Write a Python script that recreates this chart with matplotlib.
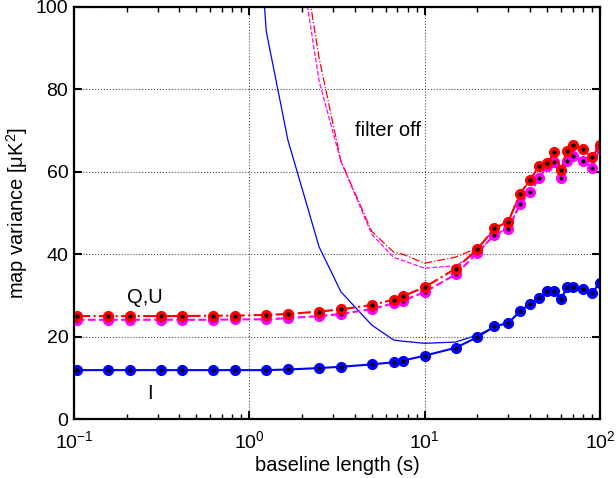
import numpy as np
import matplotlib
matplotlib.use('Agg')
import matplotlib.pyplot as plt
from matplotlib.ticker import LogLocator, NullFormatter

plt.rcParams['font.family'] = ['Liberation Sans', 'DejaVu Sans']
plt.rcParams['mathtext.default'] = 'regular'

# baseline lengths (s)
baseline = [0.104, 0.156, 0.208, 0.312, 0.416, 0.624, 0.832, 1.25, 1.66, 2.5,
            3.33, 5.0, 6.66, 7.5, 10, 15, 20, 25, 30, 35,
            40, 45, 50, 55, 60, 65, 70, 80, 90, 100]

# map variance, filter on
var_I = [11.9, 11.9, 11.9, 11.9, 11.9, 11.9, 11.9, 11.9, 12.05, 12.4,
         12.7, 13.3, 13.8, 14.2, 15.4, 17.3, 19.9, 22.5, 23.3, 26.2,
         28.0, 29.5, 31.0, 31.1, 29.2, 32.0, 32.0, 31.5, 30.7, 33.0]
var_Q = [25.0, 25.0, 25.0, 25.0, 25.0, 25.1, 25.1, 25.3, 25.5, 26.1,
         26.6, 27.7, 29.0, 29.8, 32.0, 36.5, 41.2, 46.3, 47.9, 54.7,
         58.0, 61.5, 62.0, 64.7, 60.4, 65.1, 66.4, 65.4, 63.5, 66.4]
var_U = [24.1, 24.1, 24.1, 24.1, 24.1, 24.1, 24.2, 24.2, 24.5, 25.0,
         25.5, 26.7, 28.1, 28.7, 30.8, 35.1, 40.3, 44.7, 46.0, 52.1,
         55.0, 58.4, 61.4, 62.3, 58.4, 62.6, 63.9, 62.6, 60.8, 65.7]

# map variance, filter off (from 0.832 s onwards)
off_baseline = baseline[6:]
off_I = [200, 94.0, 67.7, 41.8, 30.9, 22.8, 19.2, 18.9, 18.4, 18.7,
         20.4, 22.3, 23.5, 26.0, 28.1, 29.6, 30.8, 31.2, 29.4, 31.8,
         32.1, 31.4, 30.9, 32.9]
off_Q = [300, 210, 135, 87.6, 62.6, 45.5, 40.5, 40.0, 37.8, 39.3,
         41.5, 46.0, 48.2, 54.3, 58.2, 61.2, 62.2, 64.5, 60.6, 65.0,
         66.2, 65.5, 63.3, 66.3]
off_U = [290, 200, 131, 82.0, 62.5, 44.8, 39.2, 38.5, 36.6, 37.2,
         40.3, 44.9, 46.2, 52.3, 54.8, 58.6, 61.2, 62.4, 58.6, 62.4,
         63.8, 62.8, 60.9, 65.6]

fig, ax = plt.subplots(figsize=(6.16, 4.78), dpi=100)
fig.subplots_adjust(left=0.12, right=0.974, bottom=0.123, top=0.986)

# filter-off curves
ax.plot(off_baseline, off_I, '-', color='blue', linewidth=0.9)
ax.plot(off_baseline, off_Q, '-.', color='red', linewidth=0.9)
ax.plot(off_baseline, off_U, '--', color='magenta', linewidth=0.9)

# filter-on curves with markers
ax.plot(baseline, var_U, '--', color='magenta', linewidth=1.5,
        marker='o', markersize=7, markeredgecolor='magenta', markerfacecolor='magenta')
ax.plot(baseline, var_U, '.', color='black', markersize=4)
ax.plot(baseline, var_Q, '-.', color='red', linewidth=1.5,
        marker='o', markersize=7, markeredgecolor='red', markerfacecolor='red')
ax.plot(baseline, var_Q, '.', color='black', markersize=4)
ax.plot(baseline, var_I, '-', color='blue', linewidth=1.5,
        marker='o', markersize=7, markeredgecolor='blue', markerfacecolor='blue')
ax.plot(baseline, var_I, '.', color='black', markersize=4)

ax.set_xscale('log')
ax.set_xlim(0.1, 100)
ax.set_ylim(0, 100)
ax.set_yticks([0, 20, 40, 60, 80, 100])
ax.xaxis.set_minor_locator(LogLocator(base=10, subs=np.arange(2, 10)))
ax.xaxis.set_minor_formatter(NullFormatter())

ax.grid(True, which='major', linestyle=':', color='black', linewidth=0.8, alpha=0.7)
ax.tick_params(which='both', direction='in', top=True, right=True, labelsize=14)
ax.tick_params(which='major', length=6, width=1.5)
ax.tick_params(which='minor', length=3.5, width=1)
ax.tick_params(axis='x', pad=8)
ax.tick_params(axis='y', pad=4)
for s in ax.spines.values():
    s.set_linewidth(1.6)

ax.set_xlabel('baseline length (s)', fontsize=14.5, labelpad=3)
ax.set_ylabel('map variance [μK$^2$]', fontsize=14.5, labelpad=4)

ax.text(4.0, 70, 'filter off', fontsize=14.5, va='center')
ax.text(0.2, 29.6, 'Q,U', fontsize=14.5, va='center')
ax.text(0.26, 6.3, 'I', fontsize=14.5, va='center')

plt.savefig('out.png', dpi=100)
